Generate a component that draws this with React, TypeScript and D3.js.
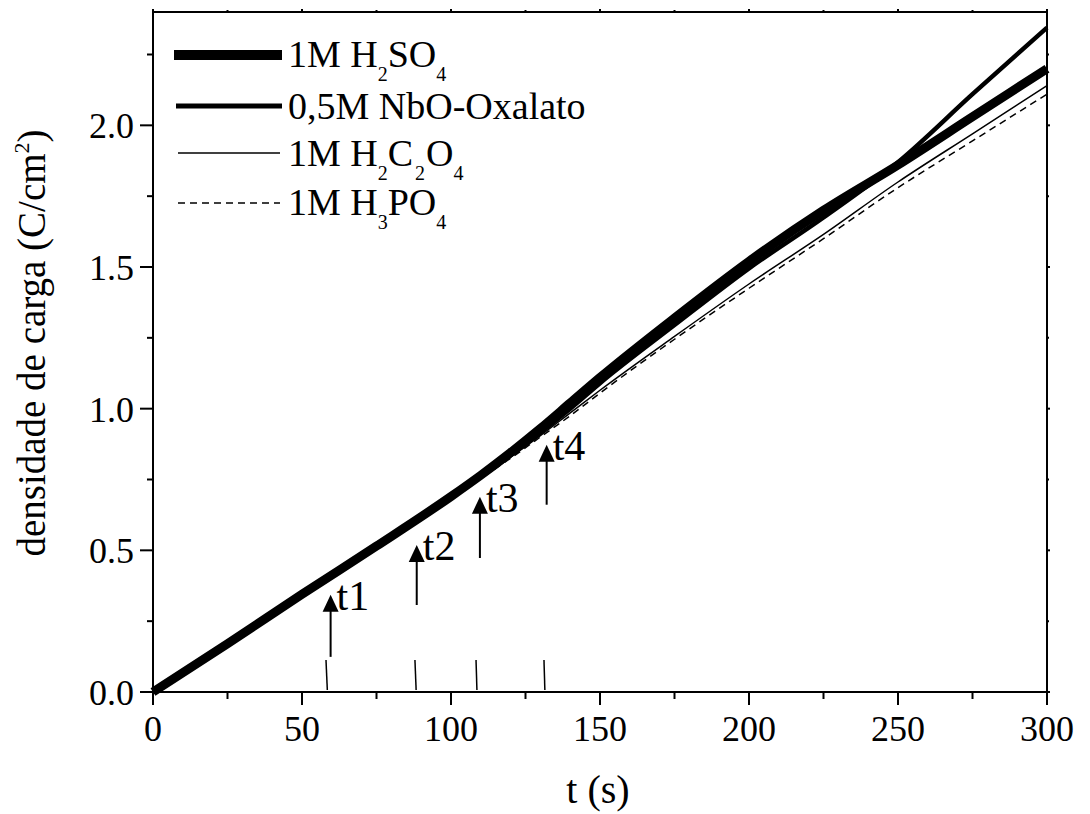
import React from "react";
import * as d3 from "d3";

// ---- data ----
const T = [0, 25, 50, 75, 100, 110, 120, 130, 140, 150, 175, 200, 225, 250, 275, 300];
const H2SO4 = [0, 0.17, 0.345, 0.515, 0.69, 0.765, 0.845, 0.93, 1.02, 1.11, 1.32, 1.52, 1.70, 1.86, 2.03, 2.20];
const NBO = [0, 0.17, 0.345, 0.515, 0.69, 0.76, 0.835, 0.915, 1.0, 1.09, 1.295, 1.495, 1.675, 1.87, 2.11, 2.345];
const H2C2O4 = [0, 0.17, 0.345, 0.515, 0.69, 0.76, 0.83, 0.905, 0.985, 1.065, 1.255, 1.44, 1.615, 1.80, 1.97, 2.14];
const H3PO4 = [0, 0.17, 0.345, 0.515, 0.69, 0.755, 0.825, 0.90, 0.975, 1.055, 1.245, 1.425, 1.60, 1.78, 1.945, 2.11];

const X_TICKS = [0, 50, 100, 150, 200, 250, 300];
const X_MINOR = [25, 75, 125, 175, 225, 275];
const Y_TICKS = [0, 0.5, 1.0, 1.5, 2.0];
const Y_MINOR = [0.25, 0.75, 1.25, 1.75, 2.25];

const ARROW_LABELS = ["t1", "t2", "t3", "t4"];
const ARROW_T = [59.6, 88.5, 109.7, 132.1];
const ARROW_Q0 = [0.124, 0.307, 0.473, 0.661];
const ARROW_Q1 = [0.343, 0.519, 0.689, 0.873];
const MARK_T_TOP = [58.05, 87.9, 108.4, 131.2];
const MARK_T_BOT = [58.5, 88.3, 108.7, 131.5];
const MARK_Q_TOP = 0.113;
const MARK_Q_BOT = 0.007;

const FONT = "'Liberation Serif', 'DejaVu Serif', 'Times New Roman', serif";

export default function App() {
  const x = d3.scaleLinear().domain([0, 300]).range([153, 1047]);
  const y = d3.scaleLinear().domain([0, 2.4]).range([692, 12]);
  const line = (vals: number[]) =>
    d3
      .line<number>()
      .x((_, i) => x(T[i]))
      .y((v) => y(v))
      .curve(d3.curveMonotoneX)(vals) as string;

  const series = [
    { vals: H2C2O4, w: 1.5, dash: undefined },
    { vals: H3PO4, w: 1.5, dash: "7,5" },
    { vals: NBO, w: 4.5, dash: undefined },
    { vals: H2SO4, w: 9, dash: undefined },
  ];

  const sub = (s: string, key: string, dx = 0) => (
    <tspan key={key} fontSize={20} dy={14} dx={dx}>
      {s}
    </tspan>
  );

  const ts = { fontFamily: FONT } as React.CSSProperties;

  return (
    <svg
      width={1090}
      height={814}
      style={{ position: "absolute", left: 0, top: 0, background: "#fff", fontFamily: FONT }}
    >
      <rect x={0} y={0} width={1090} height={814} fill="#fff" />
      {series.map((s, i) => (
        <path
          key={i}
          d={line(s.vals)}
          fill="none"
          stroke="#000"
          strokeWidth={s.w}
          strokeDasharray={s.dash}
        />
      ))}

      <rect x={153} y={12} width={894} height={680} fill="none" stroke="#000" strokeWidth={2} />

      {X_TICKS.map((t) => (
        <g key={"xt" + t}>
          <line x1={x(t)} x2={x(t)} y1={692} y2={705} stroke="#000" strokeWidth={2} />
          <line x1={x(t)} x2={x(t)} y1={12} y2={9} stroke="#000" strokeWidth={2} />
          <text style={ts} x={x(t)} y={741} fontSize={36} textAnchor="middle">
            {String(t)}
          </text>
        </g>
      ))}
      {X_MINOR.map((t) => (
        <g key={"xm" + t}>
          <line x1={x(t)} x2={x(t)} y1={692} y2={699} stroke="#000" strokeWidth={2} />
          <line x1={x(t)} x2={x(t)} y1={12} y2={10} stroke="#000" strokeWidth={2} />
        </g>
      ))}
      {Y_TICKS.map((q) => (
        <g key={"yt" + q}>
          <line x1={140} x2={153} y1={y(q)} y2={y(q)} stroke="#000" strokeWidth={2} />
          <line x1={1047} x2={1050} y1={y(q)} y2={y(q)} stroke="#000" strokeWidth={2} />
          <text style={ts} x={134} y={y(q) + 13} fontSize={36} textAnchor="end">
            {q.toFixed(1)}
          </text>
        </g>
      ))}
      {Y_MINOR.map((q) => (
        <g key={"ym" + q}>
          <line x1={147} x2={153} y1={y(q)} y2={y(q)} stroke="#000" strokeWidth={2} />
          <line x1={1047} x2={1049} y1={y(q)} y2={y(q)} stroke="#000" strokeWidth={2} />
        </g>
      ))}

      <text style={ts} x={598} y={803} fontSize={40} textAnchor="middle">
        t (s)
      </text>
      <text style={ts} transform={`translate(45,343) rotate(-90)`} fontSize={39} textAnchor="middle">
        densidade de carga (C/cm
        <tspan fontSize={22} dy={-16}>
          2
        </tspan>
        <tspan dy={16}>)</tspan>
      </text>

      {ARROW_LABELS.map((lab, i) => {
        const ax = x(ARROW_T[i]);
        const yb = y(ARROW_Q0[i]);
        const yt = y(ARROW_Q1[i]);
        return (
          <g key={lab}>
            <line x1={ax} x2={ax} y1={yb} y2={yt + 14} stroke="#000" strokeWidth={2} />
            <path d={`M${ax},${yt} L${ax - 8},${yt + 17} L${ax + 8},${yt + 17} Z`} fill="#000" />
            <text style={ts} x={ax + 6} y={yt + 15} fontSize={42}>
              {lab}
            </text>
            <line
              x1={x(MARK_T_TOP[i])}
              x2={x(MARK_T_BOT[i])}
              y1={y(MARK_Q_TOP)}
              y2={y(MARK_Q_BOT)}
              stroke="#000"
              strokeWidth={1.5}
            />
          </g>
        );
      })}

      <g>
        <line x1={174} x2={282} y1={55} y2={55} stroke="#000" strokeWidth={10} />
        <text style={ts} x={288} y={67} fontSize={38}>
          1M H{sub("2", "a")}
          <tspan dy={-14} dx={0}>SO</tspan>
          {sub("4", "b")}
        </text>
        <line x1={176} x2={282} y1={106} y2={106} stroke="#000" strokeWidth={5} />
        <text style={ts} x={288} y={119} fontSize={38}>
          0,5M NbO-Oxalato
        </text>
        <line x1={178} x2={280} y1={153} y2={153} stroke="#000" strokeWidth={1.5} />
        <text style={ts} x={288} y={166} fontSize={38}>
          1M H{sub("2", "c")}
          <tspan dy={-14} dx={0}>C</tspan>
          {sub("2", "d", 2)}
          <tspan dy={-14} dx={1}>O</tspan>
          {sub("4", "e")}
        </text>
        <line x1={178} x2={280} y1={203} y2={203} stroke="#000" strokeWidth={1.5} strokeDasharray="7,5" />
        <text style={ts} x={288} y={215} fontSize={38}>
          1M H{sub("3", "f")}
          <tspan dy={-14} dx={0}>PO</tspan>
          {sub("4", "g")}
        </text>
      </g>
    </svg>
  );
}
